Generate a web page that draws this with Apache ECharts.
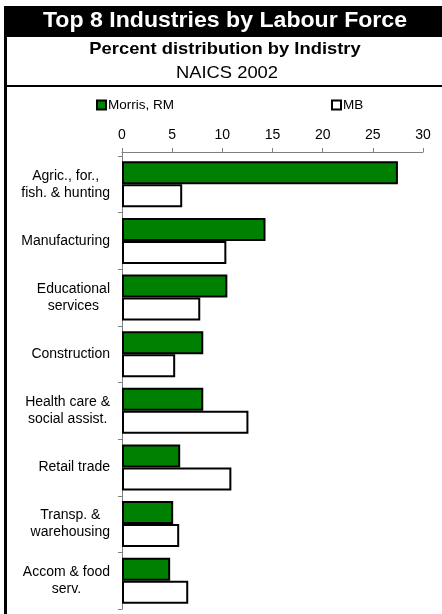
<!DOCTYPE html>
<html>
<head>
<meta charset="utf-8">
<script src="https://cdn.jsdelivr.net/npm/echarts@6/dist/echarts.min.js"></script>
<style>
html,body{margin:0;padding:0;background:#fff;}
#chart{width:442px;height:614px;}
</style>
</head>
<body>
<div id="chart"></div>
<script>
var categories = ['Agric., for.,\nfish. & hunting', 'Manufacturing', 'Educational\nservices', 'Construction', 'Health care &\nsocial assist.', 'Retail trade', 'Transp. &\nwarehousing', 'Accom & food\nserv.'];
var morrisValues = [27.5, 14.3, 10.5, 8.1, 8.1, 5.8, 5.1, 4.8];
var mbValues = [6.0, 10.4, 7.8, 5.3, 12.6, 10.9, 5.7, 6.6];
var xTicks = [0, 5, 10, 15, 20, 25, 30];
var seriesNames = ['Morris, RM', 'MB'];

var FONT = '"Liberation Sans", Arial, sans-serif';
var chart = echarts.init(document.getElementById('chart'), null, {renderer: 'canvas'});

var option = {
  animation: false,
  backgroundColor: '#fff',
  textStyle: {fontFamily: FONT},
  graphic: [
    {type: 'rect', shape: {x: 4, y: 6, width: 438, height: 31}, style: {fill: '#000'}},
    {type: 'rect', shape: {x: 4, y: 6, width: 3, height: 608}, style: {fill: '#000'}},
    {type: 'rect', shape: {x: 4, y: 85, width: 438, height: 2}, style: {fill: '#000'}},
    {type: 'line', shape: {x1: 122.5, y1: 152, x2: 122.5, y2: 156}, style: {stroke: '#808080', lineWidth: 1}},
    {type: 'text', x: 225, y: 21, scaleX: 1.05, style: {text: 'Top 8 Industries by Labour Force', fill: '#fff', font: 'bold 22px ' + FONT, textAlign: 'center', textVerticalAlign: 'middle'}},
    {type: 'text', x: 225, y: 49, scaleX: 1.08, style: {text: 'Percent distribution by Indistry', fill: '#000', font: 'bold 17px ' + FONT, textAlign: 'center', textVerticalAlign: 'middle'}},
    {type: 'text', x: 227, y: 73, scaleX: 1.08, style: {text: 'NAICS 2002', fill: '#000', font: '17px ' + FONT, textAlign: 'center', textVerticalAlign: 'middle'}}
  ],
  legend: [
    {data: [seriesNames[0]], left: 96, top: 98, padding: 0, itemWidth: 9, itemHeight: 9, itemGap: 0,
     textStyle: {fontSize: 13.5, fontFamily: FONT, color: '#000', padding: [0, 0, 0, -3]}, icon: 'rect'},
    {data: [seriesNames[1]], left: 331, top: 98, padding: 0, itemWidth: 9, itemHeight: 9, itemGap: 0,
     textStyle: {fontSize: 13.5, fontFamily: FONT, color: '#000', padding: [0, 0, 0, -3]}, icon: 'rect'}
  ],
  grid: {left: 122, right: 19, top: 156, bottom: 5, containLabel: false},
  xAxis: {
    type: 'value', position: 'top', offset: 4, min: 0, max: 30, interval: 5,
    axisLine: {show: true, lineStyle: {color: '#808080', width: 1}},
    axisTick: {show: true, length: 4, lineStyle: {color: '#808080'}},
    splitLine: {show: false},
    axisLabel: {fontSize: 14, color: '#000', fontFamily: FONT, margin: 10,
      formatter: function (v) { return xTicks.indexOf(v) >= 0 ? String(v) : ''; }}
  },
  yAxis: {
    type: 'category', inverse: true, data: categories,
    axisLine: {show: true, lineStyle: {color: '#808080', width: 1}},
    axisTick: {show: true, length: 4, lineStyle: {color: '#808080'}},
    axisLabel: {
      margin: 12, color: '#000', fontSize: 14, fontFamily: FONT, lineHeight: 17,
      formatter: function (v) {
        return v.split('\n').map(function (s) { return '{c|' + s + '}'; }).join('\n');
      },
      rich: {c: {align: 'center', fontSize: 14, fontFamily: FONT, color: '#000', lineHeight: 17}}
    }
  },
  series: [
    {name: seriesNames[0], type: 'bar', data: morrisValues, barWidth: 23, barGap: '0%',
     itemStyle: {color: '#008000', borderColor: '#000', borderWidth: 2}},
    {name: seriesNames[1], type: 'bar', data: mbValues, barWidth: 23, barGap: '0%',
     itemStyle: {color: '#fff', borderColor: '#000', borderWidth: 2}}
  ]
};
chart.setOption(option);
</script>
</body>
</html>
